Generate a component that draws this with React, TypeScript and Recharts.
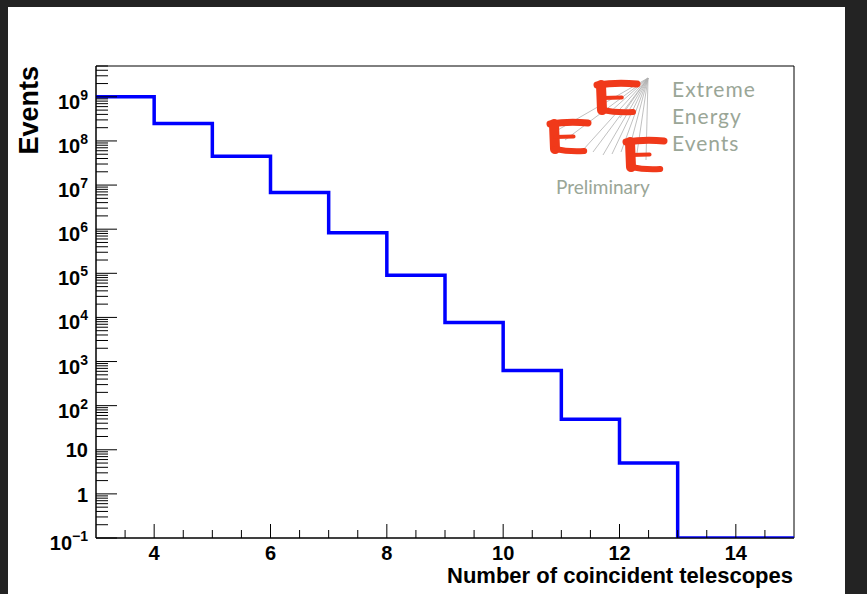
import { LineChart, Line, XAxis, YAxis, ReferenceArea } from 'recharts';

// histogram: number of coincident telescopes (bin low edges, width 1)
const BIN_LOW = [3, 4, 5, 6, 7, 8, 9, 10, 11, 12, 13, 14];
const X_MAX = 15;
const EVENTS = [1.0e9, 2.5e8, 4.5e7, 6.8e6, 8.3e5, 9.0e4, 7.7e3, 630, 49, 5, 0, 0];

const Y_MIN = 0.1;
const Y_MAX = 5e9;
const Y_EXPONENTS = [-1, 0, 1, 2, 3, 4, 5, 6, 7, 8, 9];
const X_MAJOR = [4, 6, 8, 10, 12, 14];

const FONT = '"Liberation Sans", Arial, Helvetica, sans-serif';
const LOGO_FONT = 'Lato, "Open Sans", sans-serif';
const LOGO_GREY = '#9aa697';
const LOGO_RED = '#f0391a';

const W = 867;
const H = 594;
const margin = { top: 66, right: 73, bottom: 0, left: 0 };
const Y_AXIS_W = 96;
const X_AXIS_H = 56;
const PLOT_LEFT = margin.left + Y_AXIS_W;
const PLOT_RIGHT = W - margin.right;
const PLOT_BOTTOM = H - margin.bottom - X_AXIS_H;

// points for a stepAfter line: each bin starts at its low edge, last point closes the histogram
const data = [
  ...BIN_LOW.map((x, i) => ({ x, y: EVENTS[i] > 0 ? EVENTS[i] : Y_MIN })),
  { x: X_MAX, y: EVENTS[EVENTS.length - 1] > 0 ? EVENTS[EVENTS.length - 1] : Y_MIN },
];

const yTicks: number[] = [];
Y_EXPONENTS.forEach((e) => {
  for (let m = 1; m <= 9; m++) {
    const v = m * Math.pow(10, e);
    if (v <= Y_MAX * 1.0001) yTicks.push(v);
  }
});

const xTicks: number[] = [];
for (let v = 3.5; v < X_MAX; v += 0.5) xTicks.push(v);

function YTick(props: any) {
  const { y, payload } = props;
  const v = payload.value as number;
  const exp = Math.round(Math.log10(v));
  const isMajor = Math.abs(v - Math.pow(10, exp)) < 1e-9 * Math.pow(10, exp);
  const len = isMajor ? 21 : 12;
  return (
    <g>
      <line x1={PLOT_LEFT} x2={PLOT_LEFT + len} y1={y} y2={y} stroke="#000" strokeWidth={1} />
      {isMajor && exp === 0 && (
        <text x={88} y={y + 8} textAnchor="end" fontFamily={FONT} fontWeight="bold" fontSize={20} fill="#000">
          1
        </text>
      )}
      {isMajor && exp === 1 && (
        <text x={88} y={y + 7} textAnchor="end" fontFamily={FONT} fontWeight="bold" fontSize={20} fill="#000">
          10
        </text>
      )}
      {isMajor && exp !== 0 && exp !== 1 && (
        <text x={88} y={y + 12} textAnchor="end" fontFamily={FONT} fontWeight="bold" fontSize={20} fill="#000">
          10
          <tspan dy={-9} fontSize={14}>
            {exp < 0 ? `\u2212${-exp}` : exp}
          </tspan>
        </text>
      )}
    </g>
  );
}

function XTick(props: any) {
  const { x, payload } = props;
  const v = payload.value as number;
  const isMajor = X_MAJOR.includes(v);
  const len = isMajor ? 14 : 8;
  return (
    <g>
      <line x1={x} x2={x} y1={PLOT_BOTTOM} y2={PLOT_BOTTOM - len} stroke="#000" strokeWidth={1} />
      {isMajor && (
        <text x={x} y={PLOT_BOTTOM + 22} textAnchor="middle" fontFamily={FONT} fontWeight="bold" fontSize={20} fill="#000">
          {v}
        </text>
      )}
    </g>
  );
}

const XTitle = () => (
  <text x={PLOT_RIGHT - 1} y={PLOT_BOTTOM + 45} textAnchor="end" fontFamily={FONT} fontWeight="bold" fontSize={22} fill="#000">
    Number of coincident telescopes
  </text>
);

function Logo() {
  const apex = { x: 648, y: 78 };
  const rays = [
    [556, 131], [565, 140], [583, 150], [593, 152], [603, 155], [612, 154],
    [621, 152], [630, 146], [637, 153], [646, 160], [610, 112], [620, 118],
  ];
  const E = (x: number, y: number, w: number, h: number) => (
    <g stroke={LOGO_RED} strokeLinecap="round" fill="none">
      <path d={`M${x} ${y + 2} Q${x + w * 0.5} ${y - 1} ${x + w} ${y + 1}`} strokeWidth={7} />
      <path d={`M${x + 4} ${y + 2} L${x + 5} ${y + h - 2}`} strokeWidth={10} />
      <path d={`M${x + 5} ${y + h * 0.52} L${x + w * 0.62} ${y + h * 0.5}`} strokeWidth={4} />
      <path d={`M${x + 5} ${y + h - 2} Q${x + w * 0.5} ${y + h + 1} ${x + w * 0.9} ${y + h}`} strokeWidth={6} />
    </g>
  );
  const textProps = { fontFamily: LOGO_FONT, fontSize: 21, letterSpacing: 1, fill: LOGO_GREY };
  return (
    <svg width={W} height={H} style={{ position: 'absolute', left: 0, top: 0, pointerEvents: 'none' }}>
      {rays.map(([x, y], i) => (
        <line key={i} x1={apex.x} y1={apex.y} x2={x} y2={y} stroke="#b0b0b0" strokeWidth={0.8} />
      ))}
      {E(597, 83, 40, 29)}
      {E(550, 122, 38, 29)}
      {E(626, 140, 38, 29)}
      <text x={672} y={97} {...textProps}>Extreme</text>
      <text x={672} y={124} {...textProps}>Energy</text>
      <text x={672} y={151} {...textProps}>Events</text>
      <text x={556} y={194} fontFamily={LOGO_FONT} fontSize={19} fill={LOGO_GREY}>Preliminary</text>
    </svg>
  );
}

export default function App() {
  return (
    <div style={{ position: 'absolute', left: 0, top: 0, width: W, height: H, background: '#232323' }}>
      <div style={{ position: 'absolute', left: 8, top: 7, width: 837, height: H - 7, background: '#fff' }} />
      <div style={{ position: 'absolute', left: 0, top: 0 }}>
        <LineChart width={W} height={H} data={data} margin={margin}>
          <ReferenceArea x1={3} x2={X_MAX} y1={Y_MIN} y2={Y_MAX} fill="none" stroke="#000" strokeWidth={1} ifOverflow="visible" />
          <XAxis
            dataKey="x"
            type="number"
            domain={[3, X_MAX]}
            ticks={xTicks}
            interval={0}
            tick={<XTick />}
            tickLine={false}
            axisLine={{ stroke: '#000' }}
            height={X_AXIS_H}
            label={<XTitle />}
          />
          <YAxis
            type="number"
            scale="log"
            domain={[Y_MIN, Y_MAX]}
            allowDataOverflow
            ticks={yTicks}
            interval={0}
            tick={<YTick />}
            tickLine={false}
            axisLine={{ stroke: '#000' }}
            width={Y_AXIS_W}
          />
          <Line
            dataKey="y"
            type="stepAfter"
            stroke="#0000ff"
            strokeWidth={3.5}
            dot={false}
            isAnimationActive={false}
          />
        </LineChart>
      </div>
      <svg width={W} height={H} style={{ position: 'absolute', left: 0, top: 0, pointerEvents: 'none' }}>
        <text
          x={38}
          y={66}
          transform="rotate(-90, 38, 66)"
          textAnchor="end"
          fontFamily={FONT}
          fontWeight="bold"
          fontSize={27}
          fill="#000"
        >
          Events
        </text>
      </svg>
      <Logo />
    </div>
  );
}
